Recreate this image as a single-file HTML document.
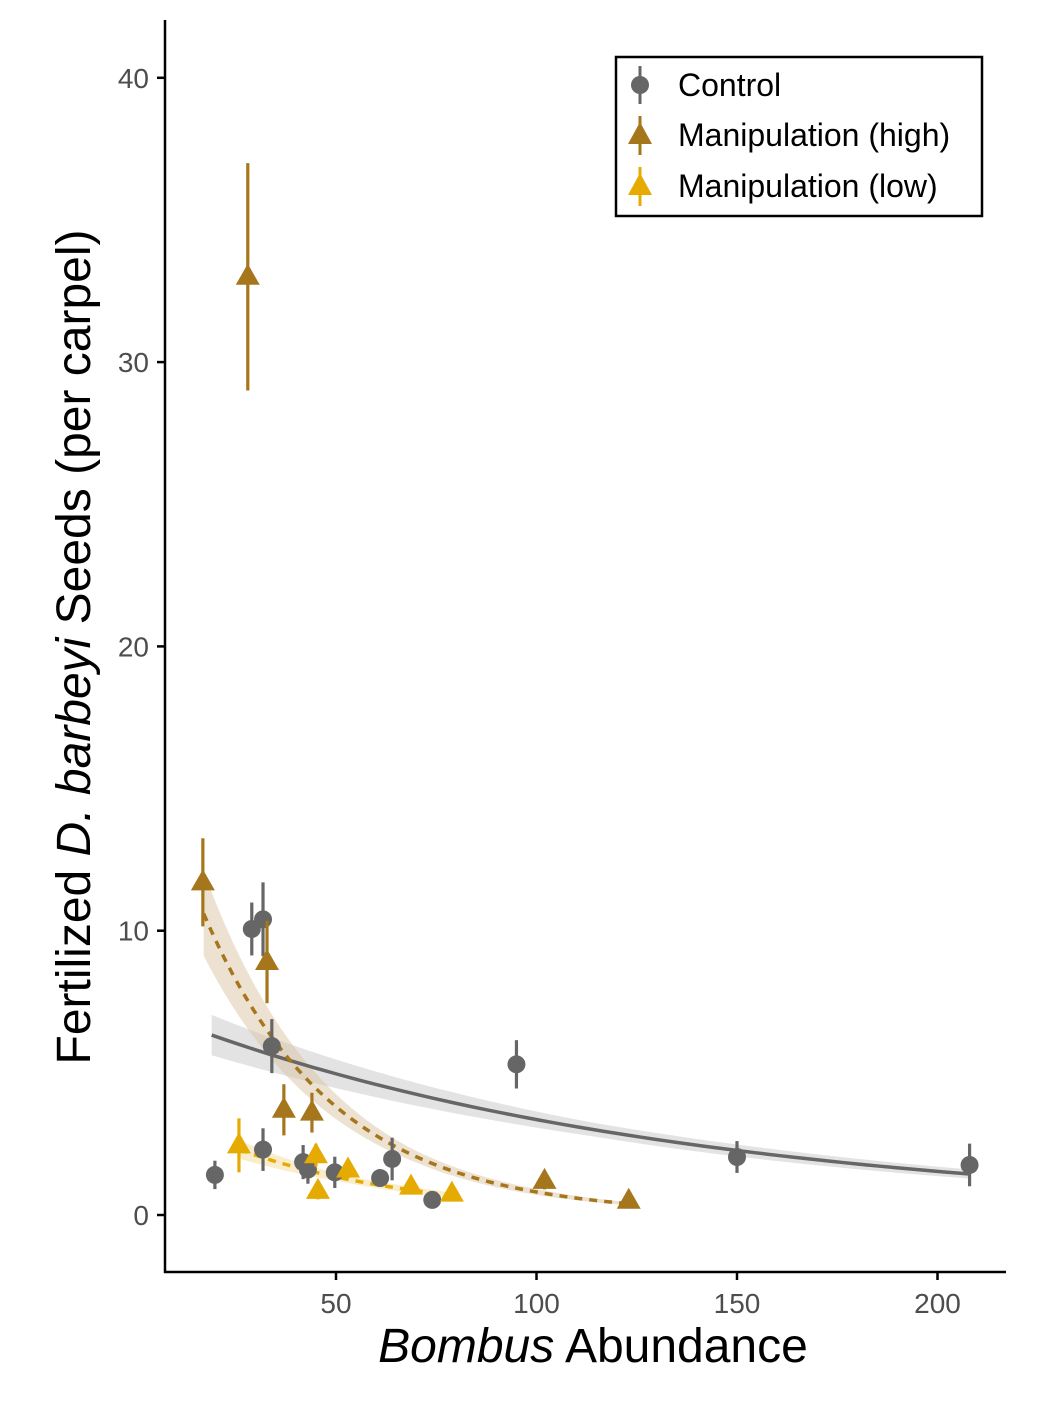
<!DOCTYPE html>
<html><head><meta charset="utf-8"><style>
html,body{margin:0;padding:0;background:#fff;}
svg{display:block;font-family:"Liberation Sans",sans-serif;}
</style></head><body>
<svg id="chart" width="1044" height="1414" viewBox="0 0 1044 1414">
<g id="bands"></g>
<g id="fits"></g>
<g id="points"></g>
<g id="axes">
<line x1="165" y1="20" x2="165" y2="1273" stroke="#000" stroke-width="2.5"/>
<line x1="164" y1="1272" x2="1006" y2="1272" stroke="#000" stroke-width="2.5"/>
</g>
<text x="593" y="1362" font-size="48" text-anchor="middle"><tspan font-style="italic">Bombus</tspan> Abundance</text>
<text transform="translate(90,647) rotate(-90)" font-size="48" text-anchor="middle">Fertilized <tspan font-style="italic">D. barbeyi</tspan> Seeds (per carpel)</text>
<g>
<rect x="616" y="57" width="366" height="159" fill="#fff" stroke="#000" stroke-width="2.5"/>
<g>
<line x1="640" y1="66" x2="640" y2="104" stroke="#666" stroke-width="3"/>
<circle cx="640" cy="85" r="9" fill="#666"/>
<text x="678" y="96" font-size="32">Control</text></g>
<g>
<line x1="640" y1="116" x2="640" y2="155" stroke="#A6761D" stroke-width="3"/>
<polygon points="640,122 652,144 628,144" fill="#A6761D"/>
<text x="678" y="146" font-size="32">Manipulation (high)</text></g>
<g>
<line x1="640" y1="167" x2="640" y2="206" stroke="#E6AB02" stroke-width="3"/>
<polygon points="640,173 652,195 628,195" fill="#E6AB02"/>
<text x="678" y="197" font-size="32">Manipulation (low)</text></g>
</g>
</svg>
<script>
const xTicks=[50,100,150,200];
const yTicks=[0,10,20,30,40];
const ctrlX=[19.8,29,31.8,34,31.8,41.8,43,49.7,61,64,74,95,150,208];
const ctrlY=[1.41,10.06,10.4,5.94,2.3,1.86,1.6,1.5,1.3,1.97,0.53,5.3,2.04,1.76];
const ctrlE=[0.5,0.93,1.3,0.95,0.75,0.6,0.5,0.55,0.3,0.75,0.2,0.85,0.56,0.75];
const highX=[16.8,28,32.8,37,44,102,123];
const highY=[11.7,33,8.9,3.7,3.6,1.2,0.5];
const highE=[1.55,4.0,1.45,0.9,0.7,0.3,0.2];
const lowX=[25.8,45,45.5,53,68.7,78.9];
const lowY=[2.45,2.1,0.85,1.6,1.0,0.75];
const lowE=[0.95,0.4,0.3,0.3,0.2,0.2];
const ctrlFit=[6.33,0.00783,19,208];
const highFit=[10.6,0.031,17,123];
const lowFit=[2.3,0.0225,26,79];
const bandW=[0.08,0.1,0.1];
const NS="http://www.w3.org/2000/svg";
const sx=v=>135.5+v*4.01;
const sy=v=>1215-v*28.43;
function mk(t,a,p){const e=document.createElementNS(NS,t);for(const k in a)e.setAttribute(k,a[k]);p.appendChild(e);return e;}
const axes=document.getElementById('axes');
xTicks.forEach(v=>{
 const l=mk('line',{x1:sx(v),x2:sx(v),y1:1272,y2:1280,stroke:'#000','stroke-width':2.5},axes);
 
 
 const t=mk('text',{x:sx(v),y:1313,'font-size':28,fill:'#4d4d4d','text-anchor':'middle'},axes);t.textContent=v;
 
 
});
yTicks.forEach(v=>{
 const l=mk('line',{x1:157,x2:165,y1:sy(v),y2:sy(v),stroke:'#000','stroke-width':2.5},axes);
 
 
 const t=mk('text',{x:149,y:sy(v)+10,'font-size':28,fill:'#4d4d4d','text-anchor':'end'},axes);t.textContent=v;
 
 
});
const bands=document.getElementById('bands'),fits=document.getElementById('fits');
function fit(f,w,col,fill,op,dash,name){
 const [a,k,x0,x1]=f;const up=[],lo=[],mid=[];
 for(let i=0;i<=60;i++){const x=x0+(x1-x0)*i/60;const y=a*Math.exp(-k*(x-x0));
  const ww=w*(1+0.4*Math.abs(i-30)/30);
  mid.push(sx(x)+','+sy(y));up.push(sx(x)+','+sy(y*(1+ww)));lo.unshift(sx(x)+','+sy(y*(1-ww)));}
 const b=mk('polygon',{points:up.concat(lo).join(' '),fill:fill,opacity:op},bands);
 
 
 const l=mk('polyline',{points:mid.join(' '),fill:'none',stroke:col,'stroke-width':3.5,'stroke-dasharray':dash},fits);
 
 
}
fit(ctrlFit,bandW[0],'#666','#c8c8c8',0.5,'none','control-fit');
fit(highFit,bandW[1],'#A6761D','#dcc6a4',0.5,'8,7','high-fit');
fit(lowFit,bandW[2],'#E6AB02','#f5dc9a',0.5,'8,7','low-fit');
const pts=document.getElementById('points');
function series(X,Y,E,col,shape,name){
 X.forEach((x,i)=>{
  const g=mk('g',{},pts);
  
  
  mk('line',{x1:sx(x),x2:sx(x),y1:sy(Y[i]-E[i]),y2:sy(Y[i]+E[i]),stroke:col,'stroke-width':3.2},g);
  const cx=sx(x),cy=sy(Y[i]);
  if(shape==='c')mk('circle',{cx:cx,cy:cy,r:9,fill:col},g);
  else mk('polygon',{points:`${cx},${cy-13} ${cx+12},${cy+8} ${cx-12},${cy+8}`,fill:col},g);
 });
}
series(ctrlX,ctrlY,ctrlE,'#666','c','control');
series(highX,highY,highE,'#A6761D','t','manipulation-high');
series(lowX,lowY,lowE,'#E6AB02','t','manipulation-low');
</script>
</body></html>
